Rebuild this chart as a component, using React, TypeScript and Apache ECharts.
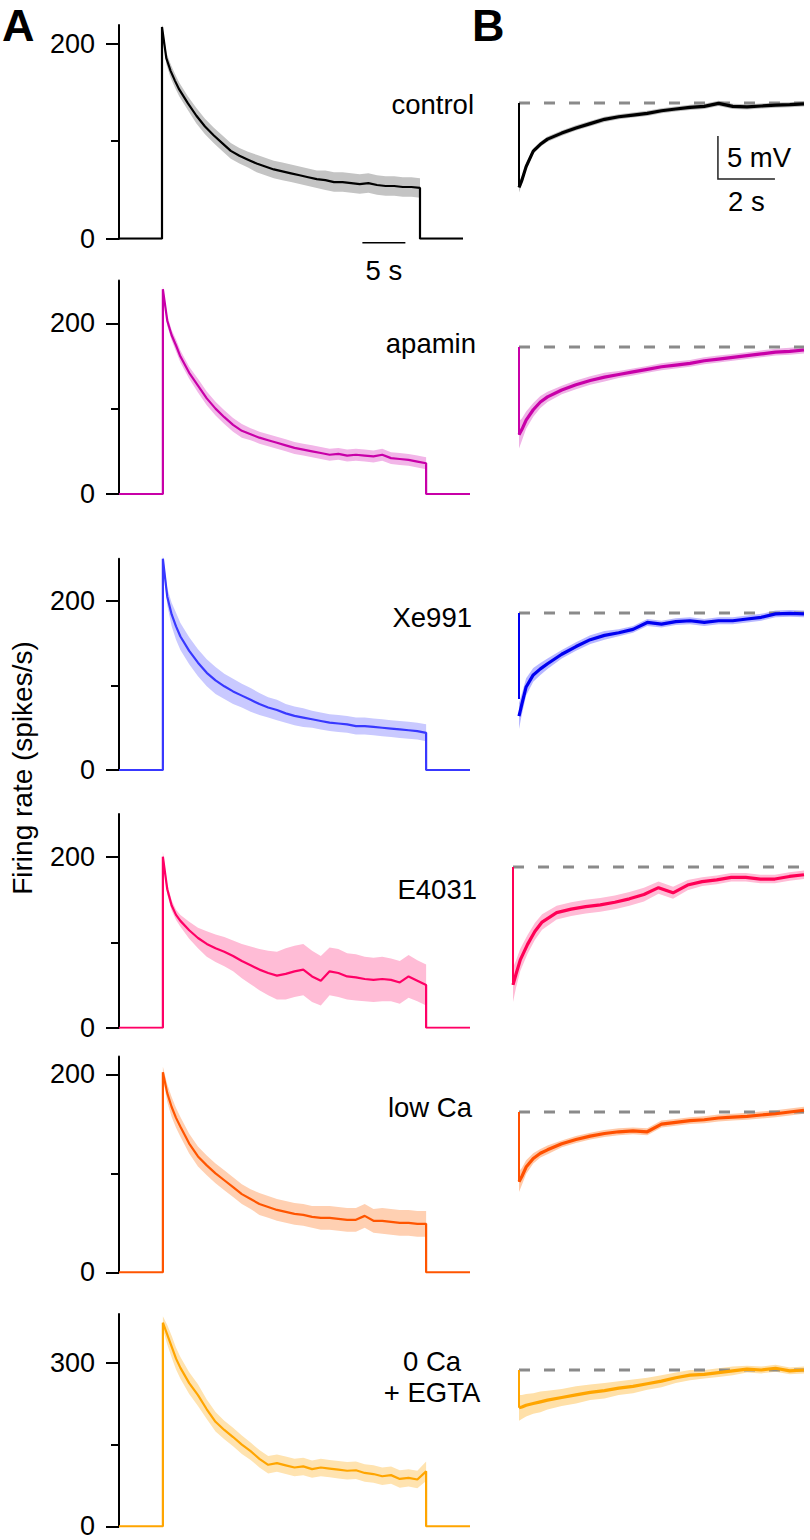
import React, { useEffect, useRef } from 'react';
import * as echarts from 'echarts';

// ---------------- DATA ----------------
const CONDITIONS = ['control', 'apamin', 'Xe991', 'E4031', 'low Ca', '0 Ca\n+ EGTA'];

// Panel A: firing rate (spikes/s) during a 30 s step, sampled times (s)
const T_A = [0, 0.5, 1, 1.5, 2, 3, 4, 5, 6, 7, 8, 9, 10, 11, 12, 13, 14, 15, 16, 17, 18, 19, 20, 21, 22, 23, 24, 25, 26, 27, 28, 29, 30];
const RATE_CONTROL = [217, 185, 172, 162, 153, 139, 126, 115, 106, 98, 90, 85, 81, 77, 74, 71, 69, 67, 65, 63, 61, 60, 58, 58, 57, 56, 57, 55, 54, 54, 53, 53, 52];
const SD_CONTROL = [3, 6, 7, 7, 7, 7, 8, 8, 8, 8, 8, 8, 8, 9, 9, 9, 9, 9, 9, 9, 9, 10, 10, 10, 10, 10, 10, 10, 10, 10, 10, 10, 10];
const RATE_APAMIN = [240, 203, 186, 174, 161, 142, 127, 112, 100, 90, 81, 74, 70, 66, 63, 60, 57, 54, 52, 50, 48, 46, 47, 45, 46, 45, 44, 46, 42, 41, 40, 38, 36];
const SD_APAMIN = [4, 6, 6, 7, 7, 7, 8, 8, 8, 8, 8, 8, 7, 7, 7, 7, 7, 7, 7, 7, 7, 7, 7, 7, 7, 7, 7, 7, 7, 7, 7, 7, 7];
const RATE_XE991 = [250, 205, 184, 170, 158, 141, 127, 115, 106, 99, 93, 88, 83, 78, 74, 71, 67, 64, 62, 60, 58, 56, 55, 54, 52, 52, 51, 50, 49, 48, 47, 46, 44];
const SD_XE991 = [4, 10, 14, 16, 16, 16, 16, 16, 16, 15, 15, 14, 14, 13, 12, 12, 11, 11, 11, 10, 10, 10, 10, 10, 10, 10, 10, 10, 10, 10, 10, 10, 10];
const RATE_E4031 = [200, 162, 143, 132, 125, 114, 105, 98, 93, 89, 84, 78, 73, 68, 64, 61, 63, 66, 68, 60, 55, 66, 64, 60, 59, 57, 56, 57, 56, 53, 60, 55, 50];
const SD_E4031 = [6, 6, 6, 6, 7, 10, 12, 15, 16, 17, 18, 20, 22, 24, 26, 28, 30, 30, 30, 30, 29, 28, 28, 27, 27, 26, 26, 26, 25, 25, 25, 24, 24];
const RATE_LOWCA = [202, 181, 167, 156, 147, 130, 117, 108, 100, 93, 86, 79, 74, 69, 66, 63, 61, 59, 58, 56, 55, 55, 54, 53, 53, 57, 52, 52, 51, 50, 50, 49, 49];
const SD_LOWCA = [6, 9, 10, 10, 10, 10, 10, 10, 10, 10, 10, 10, 10, 11, 11, 11, 11, 11, 11, 11, 12, 12, 12, 12, 12, 12, 12, 13, 13, 13, 13, 13, 13];
const RATE_0CA = [374, 352, 330, 308, 291, 263, 241, 215, 192, 177, 164, 150, 138, 124, 113, 116, 112, 108, 110, 105, 108, 106, 104, 102, 103, 98, 96, 92, 94, 87, 89, 86, 101];
const SD_0CA = [12, 18, 20, 20, 20, 20, 20, 18, 18, 17, 17, 17, 16, 16, 16, 16, 16, 16, 16, 16, 16, 16, 16, 16, 16, 16, 16, 16, 16, 16, 16, 16, 18];
const A_X_RANGE = [-5, 35];
const A_STEP_END = 30;
const A_Y_MAX = [219, 250, 250, 250, 218, 390];
const A_LABEL_TICKS = [[0, 200], [0, 200], [0, 200], [0, 200], [0, 200], [0, 300]];
const A_MID_TICKS = [[100], [100], [100], [100], [100], [150]];

// Panel B: membrane potential relative to baseline (mV) after the step, times (s)
const T_B = [0, 0.1, 0.25, 0.5, 0.75, 1, 1.5, 2, 2.5, 3, 3.5, 4, 4.5, 5, 5.5, 6, 6.5, 7, 7.5, 8, 8.5, 9, 9.5, 10];
const VM_CONTROL = [-9.8, -9.0, -7.4, -5.6, -4.8, -4.2, -3.5, -2.9, -2.4, -1.9, -1.6, -1.4, -1.2, -0.9, -0.7, -0.5, -0.4, -0.05, -0.4, -0.45, -0.35, -0.25, -0.2, -0.1];
const VM_APAMIN = [-10.2, -9.6, -8.5, -7.3, -6.4, -5.8, -5.0, -4.4, -3.9, -3.5, -3.2, -2.9, -2.6, -2.3, -2.1, -1.9, -1.6, -1.4, -1.2, -1.0, -0.8, -0.6, -0.5, -0.35];
const VM_XE991 = [-12.0, -10.6, -8.6, -7.2, -6.5, -5.9, -4.8, -3.9, -3.1, -2.6, -2.3, -1.9, -1.1, -1.3, -1.0, -0.9, -1.1, -0.9, -0.9, -0.7, -0.5, -0.1, -0.05, -0.1];
const VM_E4031 = [-13.7, -12.5, -10.8, -9.0, -7.5, -6.4, -5.3, -4.9, -4.6, -4.4, -4.1, -3.7, -3.2, -2.4, -3.0, -2.1, -1.7, -1.5, -1.2, -1.2, -1.4, -1.4, -1.1, -0.9];
const VM_LOWCA = [-8.1, -7.5, -6.4, -5.4, -4.8, -4.4, -3.7, -3.2, -2.8, -2.5, -2.3, -2.2, -2.3, -1.4, -1.2, -1.0, -0.9, -0.7, -0.6, -0.5, -0.35, -0.2, 0.0, 0.2];
const VM_0CA = [-4.4, -4.3, -4.1, -3.9, -3.7, -3.5, -3.2, -2.9, -2.6, -2.4, -2.1, -1.9, -1.6, -1.3, -0.9, -0.6, -0.5, -0.3, -0.1, 0.1, 0.0, 0.2, -0.1, 0.0];
const SDB_CONTROL = [0.6, 0.5, 0.4, 0.3, 0.3, 0.3, 0.3, 0.3, 0.3, 0.3, 0.3, 0.3, 0.3, 0.3, 0.3, 0.3, 0.3, 0.3, 0.3, 0.3, 0.3, 0.3, 0.3, 0.3];
const SDB_APAMIN = [1.6, 1.3, 1.0, 0.8, 0.7, 0.6, 0.5, 0.5, 0.5, 0.5, 0.4, 0.4, 0.4, 0.4, 0.4, 0.4, 0.4, 0.4, 0.4, 0.4, 0.4, 0.4, 0.4, 0.4];
const SDB_XE991 = [1.5, 1.2, 1.0, 0.8, 0.7, 0.6, 0.5, 0.5, 0.5, 0.5, 0.4, 0.4, 0.4, 0.4, 0.4, 0.4, 0.4, 0.4, 0.4, 0.4, 0.4, 0.4, 0.4, 0.4];
const SDB_E4031 = [2.0, 1.6, 1.3, 1.1, 1.0, 0.9, 0.8, 0.8, 0.8, 0.8, 0.8, 0.8, 0.8, 0.7, 0.7, 0.6, 0.5, 0.5, 0.5, 0.5, 0.5, 0.5, 0.5, 0.5];
const SDB_LOWCA = [1.2, 1.0, 0.8, 0.6, 0.5, 0.5, 0.4, 0.4, 0.4, 0.4, 0.4, 0.4, 0.4, 0.4, 0.4, 0.4, 0.4, 0.4, 0.4, 0.4, 0.4, 0.4, 0.4, 0.4];
const SDB_0CA = [1.5, 1.4, 1.3, 1.2, 1.2, 1.1, 1.0, 1.0, 0.9, 0.9, 0.8, 0.8, 0.7, 0.7, 0.6, 0.6, 0.5, 0.5, 0.5, 0.4, 0.4, 0.4, 0.4, 0.4];
const B_STEP_DEPTH = [-9.8, -10.2, -10.0, -13.7, -8.1, -4.4];
const B_X_RANGE = [0, 10];
const B_Y_RANGE = [-15, 2];

const RATES = [RATE_CONTROL, RATE_APAMIN, RATE_XE991, RATE_E4031, RATE_LOWCA, RATE_0CA];
const SDS = [SD_CONTROL, SD_APAMIN, SD_XE991, SD_E4031, SD_LOWCA, SD_0CA];
const VMS = [VM_CONTROL, VM_APAMIN, VM_XE991, VM_E4031, VM_LOWCA, VM_0CA];
const SDBS = [SDB_CONTROL, SDB_APAMIN, SDB_XE991, SDB_E4031, SDB_LOWCA, SDB_0CA];

// ---------------- STYLE / LAYOUT ----------------
const FONT = '"Liberation Sans", Arial, Helvetica, sans-serif';
const TRACE_COLORS = ['#000000', '#c800a8', '#3838ff', '#ff0066', '#ff5500', '#ffa500'];
const BAND_COLORS = ['#c4c4c4', '#f2b6e8', '#c9c9ff', '#ffbcd6', '#ffd0b2', '#ffe3b0'];
const B_TRACE_COLORS = ['#000000', '#c800a8', '#0000f0', '#ff0055', '#ff5000', '#ffa500'];
const B_BAND_COLORS = ['#bdbdbd', '#efb3e6', '#b8b8ff', '#ffbcd6', '#ffc9a8', '#ffe0a8'];

const A_GRIDS = [
  { left: 119, width: 344, top: 25, height: 213.7 },
  { left: 119, width: 351, top: 280.6, height: 213.4 },
  { left: 119, width: 351, top: 558.7, height: 211.3 },
  { left: 119, width: 351, top: 814, height: 213.75 },
  { left: 119, width: 351, top: 1056.5, height: 215.8 },
  { left: 119, width: 351, top: 1314, height: 212.3 },
];
const B_BASE_Y = [103, 347, 613, 867, 1112, 1370];
const B_LEFT = [519, 519, 519, 513, 519, 519];
const B_WIDTH = [285, 285, 285, 291, 285, 285];
const B_PX_PER_MV = 8.6;

const LABEL_POS = [
  { x: 474, y: 104, align: 'right' },
  { x: 476, y: 343, align: 'right' },
  { x: 472, y: 617, align: 'right' },
  { x: 477, y: 889, align: 'right' },
  { x: 472, y: 1107, align: 'right' },
  { x: 432, y: 1377, align: 'center' },
];

function bandSeries(axisIndex: number, t: number[], mean: number[], sd: number[], color: string) {
  return {
    type: 'custom',
    xAxisIndex: axisIndex,
    yAxisIndex: axisIndex,
    silent: true,
    z: 1,
    data: [[t[0], mean[0]]],
    renderItem: (_params: any, api: any) => {
      const pts: number[][] = [];
      for (let k = 0; k < t.length; k++) pts.push(api.coord([t[k], mean[k] + sd[k]]));
      for (let k = t.length - 1; k >= 0; k--) pts.push(api.coord([t[k], mean[k] - sd[k]]));
      return { type: 'polygon', shape: { points: pts }, style: { fill: color } };
    },
  };
}

export default function App() {
  const ref = useRef<HTMLDivElement>(null);

  useEffect(() => {
    document.body.style.margin = '0';
    if (!ref.current) return;
    const chart = echarts.init(ref.current, null, { renderer: 'svg' });

    const grids: any[] = [];
    const xAxes: any[] = [];
    const yAxes: any[] = [];
    const series: any[] = [];

    // Panel A grids (0..5)
    A_GRIDS.forEach((g, i) => {
      grids.push({ ...g, outerBoundsMode: 'none', containLabel: false });
      xAxes.push({ gridIndex: i, type: 'value', min: A_X_RANGE[0], max: A_X_RANGE[1], show: false });
    });
    // Panel B grids (6..11)
    B_BASE_Y.forEach((y0, i) => {
      const top = y0 - B_Y_RANGE[1] * B_PX_PER_MV;
      grids.push({ left: B_LEFT[i], width: B_WIDTH[i], top, height: (B_Y_RANGE[1] - B_Y_RANGE[0]) * B_PX_PER_MV, outerBoundsMode: 'none', containLabel: false });
      xAxes.push({ gridIndex: 6 + i, type: 'value', min: B_X_RANGE[0], max: B_X_RANGE[1], show: false });
    });
    // y axes: 0..5 A main, 6..11 B hidden, 12..17 A mid-tick
    A_GRIDS.forEach((_g, i) => {
      yAxes.push({
        gridIndex: i, type: 'value', min: 0, max: A_Y_MAX[i], position: 'left',
        axisLine: { show: true, onZero: false, lineStyle: { color: '#000', width: 2 } },
        axisTick: { show: true, length: 13, lineStyle: { color: '#000', width: 2 }, customValues: A_LABEL_TICKS[i] },
        axisLabel: { show: true, customValues: A_LABEL_TICKS[i], margin: 24, color: '#000', fontSize: 27, fontFamily: FONT, lineHeight: 20 },
        splitLine: { show: false },
      });
    });
    B_BASE_Y.forEach((_y, i) => {
      yAxes.push({ gridIndex: 6 + i, type: 'value', min: B_Y_RANGE[0], max: B_Y_RANGE[1], show: false });
    });
    A_GRIDS.forEach((_g, i) => {
      yAxes.push({
        gridIndex: i, type: 'value', min: 0, max: A_Y_MAX[i], position: 'left', offset: 0,
        axisLine: { show: false, onZero: false },
        axisTick: { show: true, length: 8, lineStyle: { color: '#000', width: 2 }, customValues: A_MID_TICKS[i] },
        axisLabel: { show: false },
        splitLine: { show: false },
      });
    });

    // Panel A series
    RATES.forEach((rate, i) => {
      series.push(bandSeries(i, T_A, rate, SDS[i], BAND_COLORS[i]));
      const data: number[][] = [[A_X_RANGE[0], 0], [T_A[0], 0]];
      T_A.forEach((t, k) => data.push([t, rate[k]]));
      data.push([A_STEP_END, 0], [A_X_RANGE[1], 0]);
      series.push({
        type: 'line', xAxisIndex: i, yAxisIndex: i, data, showSymbol: false, symbol: 'none', silent: true, z: 3,
        lineStyle: { color: TRACE_COLORS[i], width: 2.2 },
      });
    });

    // Panel B series
    VMS.forEach((vm, i) => {
      const ax = 6 + i;
      series.push({
        type: 'line', xAxisIndex: ax, yAxisIndex: ax, data: [[B_X_RANGE[0], 0], [B_X_RANGE[1], 0]], showSymbol: false, symbol: 'none', silent: true, z: 1,
        lineStyle: { color: '#8a8a8a', width: 3, type: [11, 14] },
      });
      series.push(bandSeries(ax, T_B, vm, SDBS[i], B_BAND_COLORS[i]));
      series.push({
        type: 'line', xAxisIndex: ax, yAxisIndex: ax, data: [[0, 0], [0, B_STEP_DEPTH[i]]], showSymbol: false, symbol: 'none', silent: true, z: 3,
        lineStyle: { color: B_TRACE_COLORS[i], width: 2 },
      });
      series.push({
        type: 'line', xAxisIndex: ax, yAxisIndex: ax, data: T_B.map((t, k) => [t, vm[k]]), showSymbol: false, symbol: 'none', silent: true, z: 4,
        lineStyle: { color: B_TRACE_COLORS[i], width: 3.2 },
      });
    });

    chart.setOption({
      animation: false,
      backgroundColor: '#ffffff',
      grid: grids,
      xAxis: xAxes,
      yAxis: yAxes,
      series,
    });

    // annotations: scale bars and texts
    const textStyle = (text: string, size: number, align: string, weight: string = 'normal') => ({
      text, fontSize: size, fontFamily: FONT, fontWeight: weight, fill: '#000', align, verticalAlign: 'middle',
    });
    const a0 = chart.convertToPixel({ gridIndex: 0 }, [23.3, 0]) as number[];
    const a1 = chart.convertToPixel({ gridIndex: 0 }, [28.3, 0]) as number[];
    const aBarY = a0[1] + 4;
    const bTop = chart.convertToPixel({ gridIndex: 6 }, [6.98, -3.84]) as number[];
    const bCorner = chart.convertToPixel({ gridIndex: 6 }, [6.98, -8.84]) as number[];
    const bRight = chart.convertToPixel({ gridIndex: 6 }, [8.98, -8.84]) as number[];

    const elements: any[] = [
      { type: 'text', x: 2, y: 25, style: { ...textStyle('A', 45, 'left', 'bold'), lineHeight: 36 } },
      { type: 'text', x: 472, y: 25, style: { ...textStyle('B', 45, 'left', 'bold'), lineHeight: 36 } },
      { type: 'text', x: 22, y: 768, rotation: Math.PI / 2, style: textStyle('Firing rate (spikes/s)', 28, 'center') },
      { type: 'line', shape: { x1: a0[0], y1: aBarY, x2: a1[0], y2: aBarY }, style: { stroke: '#000', lineWidth: 1.5 } },
      { type: 'text', x: (a0[0] + a1[0]) / 2, y: aBarY + 28, style: textStyle('5 s', 27.5, 'center') },
      { type: 'polyline', shape: { points: [[bTop[0], bTop[1]], [bCorner[0], bCorner[1]], [bRight[0], bRight[1]]] }, style: { stroke: '#222', lineWidth: 1.5, fill: null } },
      { type: 'text', x: bCorner[0] + 9, y: (bTop[1] + bCorner[1]) / 2, style: textStyle('5 mV', 27.5, 'left') },
      { type: 'text', x: (bCorner[0] + bRight[0]) / 2, y: bCorner[1] + 22, style: textStyle('2 s', 27.5, 'center') },
    ];
    CONDITIONS.forEach((name, i) => {
      const p = LABEL_POS[i];
      elements.push({ type: 'text', x: p.x, y: p.y, style: { ...textStyle(name, 27.5, p.align), lineHeight: 31 } });
    });
    chart.setOption({ graphic: { elements } });

    return () => chart.dispose();
  }, []);

  return <div ref={ref} style={{ width: 810, height: 1540 }} />;
}
